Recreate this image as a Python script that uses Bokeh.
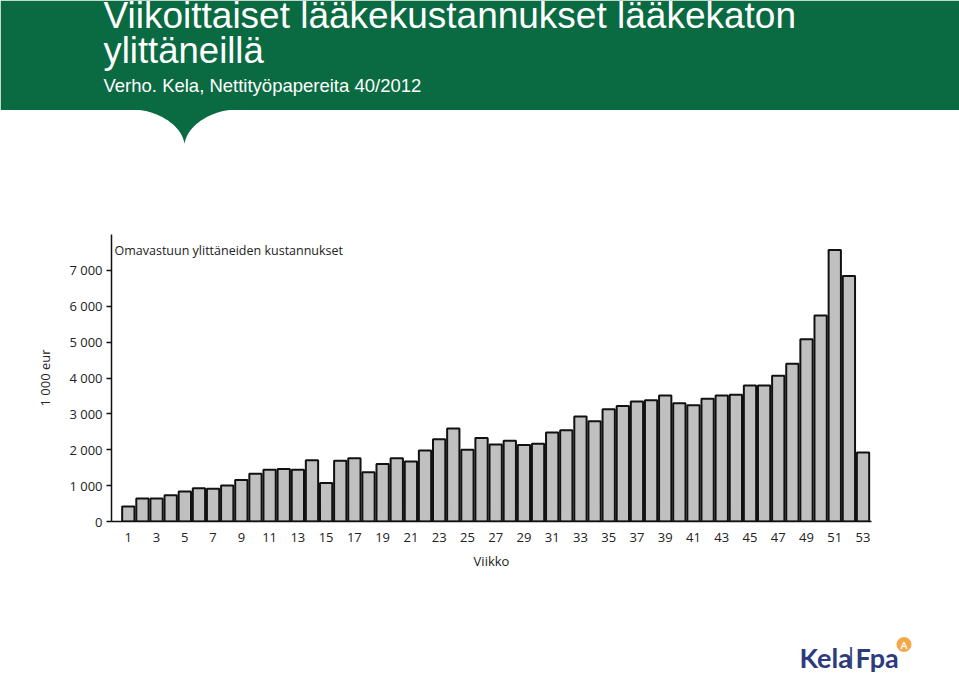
import numpy as np
from bokeh.plotting import figure
from bokeh.layouts import column
from bokeh.models import Range1d, FixedTicker, Label
from bokeh.core.properties import value
from bokeh.embed import file_html
from bokeh.resources import INLINE

# ---------------- data ----------------
title_lines = ["Viikoittaiset lääkekustannukset lääkekaton", "ylittäneillä"]
subtitle = "Verho. Kela, Nettityöpapereita 40/2012"
chart_title = "Omavastuun ylittäneiden kustannukset"
y_axis_title = "1 000 eur"
x_axis_title = "Viikko"

weeks = list(range(1, 54))
costs = [420, 640, 640, 735, 835, 930, 910, 1005, 1160, 1330,
         1440, 1460, 1440, 1710, 1070, 1690, 1765, 1375, 1600, 1765,
         1670, 1980, 2295, 2590, 2000, 2330, 2145, 2250, 2135, 2165,
         2480, 2545, 2925, 2795, 3130, 3220, 3345, 3380, 3510, 3295,
         3240, 3425, 3510, 3530, 3790, 3790, 4065, 4400, 5080, 5740,
         7565, 6845, 1920]

x_tick_values = [1, 3, 5, 7, 9, 11, 13, 15, 17, 19, 21, 23, 25, 27,
                 29, 31, 33, 35, 37, 39, 41, 43, 45, 47, 49, 51, 53]
y_tick_values = [0, 1000, 2000, 3000, 4000, 5000, 6000, 7000]
y_tick_labels = ["0", "1 000", "2 000", "3 000", "4 000", "5 000", "6 000", "7 000"]

logo_parts = ["Kela", "|", "Fpa"]

# ---------------- styles ----------------
GREEN = "#0a6a41"
NAVY = "#2c3b7b"
ORANGE = "#f3a84a"
W = 959


def bare(fig):
    fig.grid.visible = False
    fig.outline_line_color = None
    fig.background_fill_color = "white"
    fig.border_fill_color = "white"
    return fig


# ---------------- header ----------------
hdr = bare(figure(width=W, height=150, x_range=Range1d(0, 959), y_range=Range1d(150, 0),
                  output_backend="svg", toolbar_location=None, min_border=0,
                  x_axis_location=None, y_axis_location=None))
hdr.quad(left=[0], right=[959], top=[0], bottom=[109.5], fill_color=GREEN, line_color=None)


def bezier(p0, p1, p2, p3, n=40):
    t = np.linspace(0, 1, n)
    x = (1 - t) ** 3 * p0[0] + 3 * (1 - t) ** 2 * t * p1[0] + 3 * (1 - t) * t ** 2 * p2[0] + t ** 3 * p3[0]
    y = (1 - t) ** 3 * p0[1] + 3 * (1 - t) ** 2 * t * p1[1] + 3 * (1 - t) * t ** 2 * p2[1] + t ** 3 * p3[1]
    return x, y


lx, ly = bezier((133, 109), (152, 109), (181, 122), (184, 143.5))
rx, ry = bezier((184, 143.5), (187, 122), (216, 109), (235, 109))
hdr.patch(x=list(lx) + list(rx) + [235, 133], y=list(ly) + list(ry) + [105, 105],
          fill_color=GREEN, line_color=None)

hdr.text(x=[103], y=[15], text=[title_lines[0]], text_font=value("Liberation Sans"),
         text_font_size="37px", text_color="white", text_baseline="alphabetic")
hdr.text(x=[103], y=[49.5], text=[title_lines[1]], text_font=value("Liberation Sans"),
         text_font_size="36.5px", text_color="white", text_baseline="alphabetic")
hdr.text(x=[103], y=[84.5], text=[subtitle], text_font=value("Liberation Sans"),
         text_font_size="18.5px", text_color="white", text_baseline="alphabetic")

# ---------------- chart ----------------
p = bare(figure(width=W, height=440, x_range=Range1d(-0.19, 53.6), y_range=Range1d(0, 8000),
                output_backend="svg", toolbar_location=None,
                min_border_left=111, min_border_right=88, min_border_top=84, min_border_bottom=69))

p.vbar(x=weeks, top=costs, width=0.87, fill_color="#c0c0c0", line_color="#111111", line_width=2)

p.xaxis.ticker = FixedTicker(ticks=x_tick_values)
p.xaxis.major_tick_line_color = None
p.xaxis.minor_tick_line_color = None
p.xaxis.axis_line_color = "#111111"
p.xaxis.axis_line_width = 1.5
p.xaxis.major_label_standoff = 5
p.xaxis.axis_label = x_axis_title
p.xaxis.axis_label_standoff = 7

p.yaxis.ticker = FixedTicker(ticks=y_tick_values)
p.yaxis.major_label_overrides = {v: s for v, s in zip(y_tick_values, y_tick_labels)}
p.yaxis.minor_tick_line_color = None
p.yaxis.major_tick_in = 0
p.yaxis.major_tick_out = 5
p.yaxis.major_tick_line_color = "#111111"
p.yaxis.major_tick_line_width = 1.5
p.yaxis.axis_line_color = "#111111"
p.yaxis.axis_line_width = 1.5
p.yaxis.major_label_standoff = 4
p.yaxis.axis_label = y_axis_title
p.yaxis.axis_label_standoff = 12

for ax in (p.xaxis, p.yaxis):
    ax.major_label_text_font = "Open Sans"
    ax.major_label_text_font_size = "13px"
    ax.major_label_text_color = "#222222"
    ax.axis_label_text_font = "Open Sans"
    ax.axis_label_text_font_size = "13px"
    ax.axis_label_text_font_style = "normal"
    ax.axis_label_text_color = "#222222"

p.add_layout(Label(x=-0.19, y=7560, x_offset=3, text=chart_title, text_font="Open Sans",
                   text_font_size="12.5px", text_color="#222222", text_baseline="middle"))

# ---------------- footer (logo) ----------------
ftr = bare(figure(width=W, height=85, x_range=Range1d(0, 959), y_range=Range1d(675, 590),
                  output_backend="svg", toolbar_location=None, min_border=0,
                  x_axis_location=None, y_axis_location=None))
ftr.text(x=[799], y=[656.5], text=[logo_parts[0]], text_font=value("Lato"), text_font_style="bold",
         text_font_size="27px", text_color=NAVY, text_baseline="alphabetic")
ftr.text(x=[850.5], y=[655], text=[logo_parts[1]], text_font=value("Lato"),
         text_font_size="24px", text_color=NAVY, text_baseline="alphabetic", text_align="center")
ftr.text(x=[855], y=[656.5], text=[logo_parts[2]], text_font=value("Lato"), text_font_style="bold",
         text_font_size="27px", text_color=NAVY, text_baseline="alphabetic")
ftr.scatter(x=[903.5], y=[644], size=15, marker="circle", fill_color=ORANGE, line_color=None)
ftr.text(x=[903.5], y=[644], text=["A"], text_font=value("Lato"), text_font_style="bold",
         text_font_size="10px", text_color="white", text_align="center", text_baseline="middle")

layout = column(column(hdr), p, column(ftr), spacing=0)

open("out.html", "w").write(file_html(layout, INLINE))
